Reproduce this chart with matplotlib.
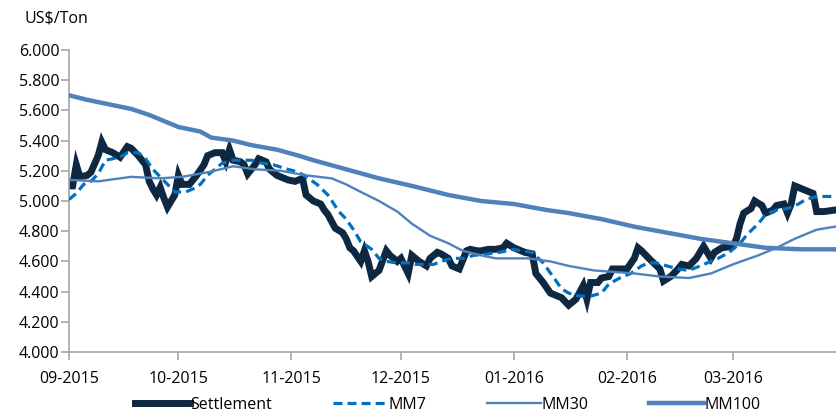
import matplotlib
matplotlib.use("Agg")
import matplotlib.pyplot as plt
import matplotlib.dates as mdates
from matplotlib.ticker import FuncFormatter, MultipleLocator
import pandas as pd

# ---------------- data ----------------
settle_dates = [
    "2015-09-01", "2015-09-02", "2015-09-03", "2015-09-04", "2015-09-06", "2015-09-07",
    "2015-09-09", "2015-09-10", "2015-09-11", "2015-09-13", "2015-09-15", "2015-09-17",
    "2015-09-18", "2015-09-20", "2015-09-22", "2015-09-23", "2015-09-24", "2015-09-25",
    "2015-09-26", "2015-09-27", "2015-09-28", "2015-09-30",
    "2015-10-01", "2015-10-02", "2015-10-04", "2015-10-06", "2015-10-08", "2015-10-09",
    "2015-10-11", "2015-10-13", "2015-10-14", "2015-10-15", "2015-10-16", "2015-10-18",
    "2015-10-19", "2015-10-20", "2015-10-22", "2015-10-23", "2015-10-25", "2015-10-26",
    "2015-10-28", "2015-10-31",
    "2015-11-02", "2015-11-04", "2015-11-05", "2015-11-07", "2015-11-09", "2015-11-10",
    "2015-11-11", "2015-11-13", "2015-11-15", "2015-11-16", "2015-11-17", "2015-11-18",
    "2015-11-20", "2015-11-21", "2015-11-22", "2015-11-23", "2015-11-25", "2015-11-27",
    "2015-11-28", "2015-11-30",
    "2015-12-01", "2015-12-03", "2015-12-04", "2015-12-06", "2015-12-08", "2015-12-09",
    "2015-12-11", "2015-12-12", "2015-12-14", "2015-12-15", "2015-12-17", "2015-12-19",
    "2015-12-20", "2015-12-22", "2015-12-23", "2015-12-25", "2015-12-27", "2015-12-29",
    "2015-12-30",
    "2016-01-01", "2016-01-02", "2016-01-03", "2016-01-04", "2016-01-06", "2016-01-07",
    "2016-01-09", "2016-01-11", "2016-01-13", "2016-01-14", "2016-01-16", "2016-01-17",
    "2016-01-18", "2016-01-20", "2016-01-21", "2016-01-22", "2016-01-24", "2016-01-25",
    "2016-01-27", "2016-01-28", "2016-01-30",
    "2016-02-01", "2016-02-03", "2016-02-04", "2016-02-05", "2016-02-07", "2016-02-10",
    "2016-02-11", "2016-02-13", "2016-02-15", "2016-02-16", "2016-02-18", "2016-02-20",
    "2016-02-22", "2016-02-24", "2016-02-25", "2016-02-27",
    "2016-03-01", "2016-03-02", "2016-03-03", "2016-03-04", "2016-03-06", "2016-03-07",
    "2016-03-09", "2016-03-10", "2016-03-12", "2016-03-13", "2016-03-15", "2016-03-16",
    "2016-03-17", "2016-03-18", "2016-03-20", "2016-03-21", "2016-03-23", "2016-03-24",
    "2016-03-26", "2016-03-29",
]
settlement = [
    5.10, 5.10, 5.24, 5.16, 5.17, 5.19,
    5.30, 5.39, 5.34, 5.32, 5.29, 5.36,
    5.35, 5.30, 5.24, 5.13, 5.08, 5.04,
    5.09, 5.02, 4.96, 5.04,
    5.17, 5.11, 5.11, 5.17, 5.24, 5.30,
    5.32, 5.32, 5.26, 5.34, 5.27, 5.26,
    5.24, 5.18, 5.24, 5.28, 5.26, 5.21,
    5.17, 5.14,
    5.13, 5.15, 5.04, 5.00, 4.98, 4.94,
    4.91, 4.82, 4.79, 4.75, 4.69, 4.67,
    4.60, 4.67, 4.60, 4.50, 4.54, 4.67,
    4.64, 4.60,
    4.62, 4.52, 4.64, 4.60, 4.57, 4.62,
    4.66, 4.65, 4.62, 4.57, 4.55, 4.67,
    4.68, 4.67, 4.67, 4.68, 4.68, 4.69,
    4.72,
    4.69, 4.68, 4.67, 4.66, 4.65, 4.52,
    4.46, 4.39, 4.37, 4.36, 4.31, 4.33,
    4.35, 4.44, 4.35, 4.46, 4.46, 4.49,
    4.50, 4.55, 4.55,
    4.55, 4.62, 4.69, 4.67, 4.62, 4.55,
    4.47, 4.50, 4.55, 4.58, 4.57, 4.62,
    4.70, 4.62, 4.66, 4.69,
    4.70, 4.75, 4.85, 4.92, 4.95, 5.00,
    4.97, 4.92, 4.94, 4.97, 4.98, 4.92,
    4.98, 5.10, 5.08, 5.07, 5.05, 4.93,
    4.93, 4.94,
]

mm7_dates = [
    "2015-09-01", "2015-09-03", "2015-09-05", "2015-09-07", "2015-09-09", "2015-09-11",
    "2015-09-13", "2015-09-15", "2015-09-17", "2015-09-20", "2015-09-22", "2015-09-24",
    "2015-09-26", "2015-09-28", "2015-09-30", "2015-10-03", "2015-10-05", "2015-10-07",
    "2015-10-09", "2015-10-11", "2015-10-13", "2015-10-16", "2015-10-19", "2015-10-21",
    "2015-10-24", "2015-10-27", "2015-10-31", "2015-11-03", "2015-11-05", "2015-11-08",
    "2015-11-11", "2015-11-14", "2015-11-16", "2015-11-18", "2015-11-20", "2015-11-23",
    "2015-11-25", "2015-11-27", "2015-11-30", "2015-12-03", "2015-12-05", "2015-12-08",
    "2015-12-10", "2015-12-12", "2015-12-15", "2015-12-18", "2015-12-21", "2015-12-25",
    "2015-12-28", "2016-01-01", "2016-01-03", "2016-01-06", "2016-01-09", "2016-01-12",
    "2016-01-14", "2016-01-16", "2016-01-19", "2016-01-22", "2016-01-25", "2016-01-27",
    "2016-01-30", "2016-02-02", "2016-02-05", "2016-02-07", "2016-02-09", "2016-02-12",
    "2016-02-15", "2016-02-18", "2016-02-20", "2016-02-23", "2016-02-26", "2016-02-29",
    "2016-03-03", "2016-03-05", "2016-03-08", "2016-03-10", "2016-03-13", "2016-03-16",
    "2016-03-19", "2016-03-21", "2016-03-24", "2016-03-29",
]
mm7 = [
    5.01, 5.05, 5.11, 5.13, 5.18, 5.27,
    5.28, 5.29, 5.32, 5.32, 5.28, 5.21,
    5.16, 5.11, 5.06, 5.06, 5.08, 5.11,
    5.17, 5.21, 5.25, 5.27, 5.27, 5.27,
    5.25, 5.24, 5.21, 5.19, 5.16, 5.11,
    5.04, 4.93, 4.88, 4.81, 4.73, 4.68,
    4.62, 4.60, 4.59, 4.59, 4.58, 4.58,
    4.58, 4.60, 4.62, 4.62, 4.64, 4.65,
    4.66, 4.68, 4.67, 4.66, 4.59, 4.49,
    4.42, 4.39, 4.37, 4.37, 4.39, 4.45,
    4.49, 4.52, 4.57, 4.59, 4.59, 4.57,
    4.55, 4.54, 4.56, 4.59, 4.62, 4.66,
    4.72, 4.78, 4.85, 4.91, 4.94, 4.95,
    4.98, 5.01, 5.03, 5.03,
]

mm30_dates = [
    "2015-09-01", "2015-09-09", "2015-09-18", "2015-09-26", "2015-10-02", "2015-10-09",
    "2015-10-16", "2015-10-22", "2015-10-29", "2015-11-05", "2015-11-12", "2015-11-16",
    "2015-11-20", "2015-11-25", "2015-11-30", "2015-12-04", "2015-12-09", "2015-12-14",
    "2015-12-18", "2015-12-23", "2015-12-27", "2016-01-01", "2016-01-05", "2016-01-11",
    "2016-01-16", "2016-01-23", "2016-02-03", "2016-02-10", "2016-02-18", "2016-02-24",
    "2016-03-01", "2016-03-08", "2016-03-13", "2016-03-18", "2016-03-24", "2016-03-29",
]
mm30 = [
    5.14, 5.13, 5.16, 5.15, 5.16, 5.19,
    5.23, 5.21, 5.20, 5.17, 5.15, 5.11,
    5.06, 5.00, 4.93, 4.85, 4.77, 4.72,
    4.67, 4.64, 4.62, 4.62, 4.62, 4.60,
    4.57, 4.54, 4.52, 4.50, 4.49, 4.52,
    4.58, 4.64, 4.69, 4.75, 4.81, 4.83,
]

mm100_dates = [
    "2015-09-01", "2015-09-06", "2015-09-12", "2015-09-18", "2015-09-23", "2015-09-26",
    "2015-10-01", "2015-10-07", "2015-10-10", "2015-10-16", "2015-10-21", "2015-10-28",
    "2015-11-03", "2015-11-07", "2015-11-16", "2015-11-25", "2015-12-04", "2015-12-14",
    "2015-12-23", "2016-01-01", "2016-01-10", "2016-01-16", "2016-01-25", "2016-02-03",
    "2016-02-12", "2016-02-21", "2016-03-01", "2016-03-10", "2016-03-20", "2016-03-29",
]
mm100 = [
    5.70, 5.67, 5.64, 5.61, 5.57, 5.54,
    5.49, 5.46, 5.42, 5.40, 5.37, 5.34,
    5.30, 5.27, 5.21, 5.15, 5.10, 5.04,
    5.00, 4.98, 4.94, 4.92, 4.88, 4.83,
    4.79, 4.75, 4.72, 4.69, 4.68, 4.68,
]

series_names = ["Settlement", "MM7", "MM30", "MM100"]
y_label = "US$/Ton"

# ---------------- plot ----------------
FONT = ["Open Sans", "DejaVu Sans"]
plt.rcParams["font.family"] = FONT
FS = 11.5

fig = plt.figure(figsize=(8.36, 4.15), dpi=100)
ax = fig.add_axes([69 / 836, 63 / 415, 1 - 69 / 836, 302 / 415])

navy = "#0e2841"
dash_blue = "#0070c0"
mid_blue = "#4f81bd"

ax.plot(pd.to_datetime(settle_dates), settlement, color=navy, lw=5.0,
        solid_joinstyle="miter", label=series_names[0], zorder=2)
ax.plot(pd.to_datetime(mm7_dates), mm7, color=dash_blue, lw=2.3,
        dashes=(2.8, 1.6), label=series_names[1], zorder=3)
ax.plot(pd.to_datetime(mm30_dates), mm30, color=mid_blue, lw=1.7,
        label=series_names[2], zorder=4)
ax.plot(pd.to_datetime(mm100_dates), mm100, color=mid_blue, lw=3.2,
        label=series_names[3], zorder=5)

start = pd.Timestamp("2015-09-01")
ax.set_xlim(start, start + pd.Timedelta(days=210.3))
ax.set_ylim(4.0, 6.0)
ax.yaxis.set_major_locator(MultipleLocator(0.2))
ax.yaxis.set_major_formatter(FuncFormatter(lambda v, p: f"{v:.3f}"))
ax.xaxis.set_major_locator(mdates.MonthLocator())
ax.xaxis.set_major_formatter(mdates.DateFormatter("%m-%Y"))

for s in ["top", "right"]:
    ax.spines[s].set_visible(False)
for s in ["left", "bottom"]:
    ax.spines[s].set_color("#a6a6a6")
    ax.spines[s].set_linewidth(1.2)
ax.tick_params(axis="both", colors="#a6a6a6", length=6, width=1.2,
               labelcolor="black", labelsize=FS)
ax.tick_params(axis="y", pad=1)
ax.tick_params(axis="x", pad=8)

fig.text(25 / 836, 1 - 19 / 415, y_label, ha="left", va="center", fontsize=FS)

leg = fig.legend(loc="center", bbox_to_anchor=(448 / 836, 10 / 415), ncol=4,
                 frameon=False, fontsize=FS, handlelength=3.4, handletextpad=0.05,
                 columnspacing=3.8, borderaxespad=0)

fig.savefig("out.png", dpi=100)
